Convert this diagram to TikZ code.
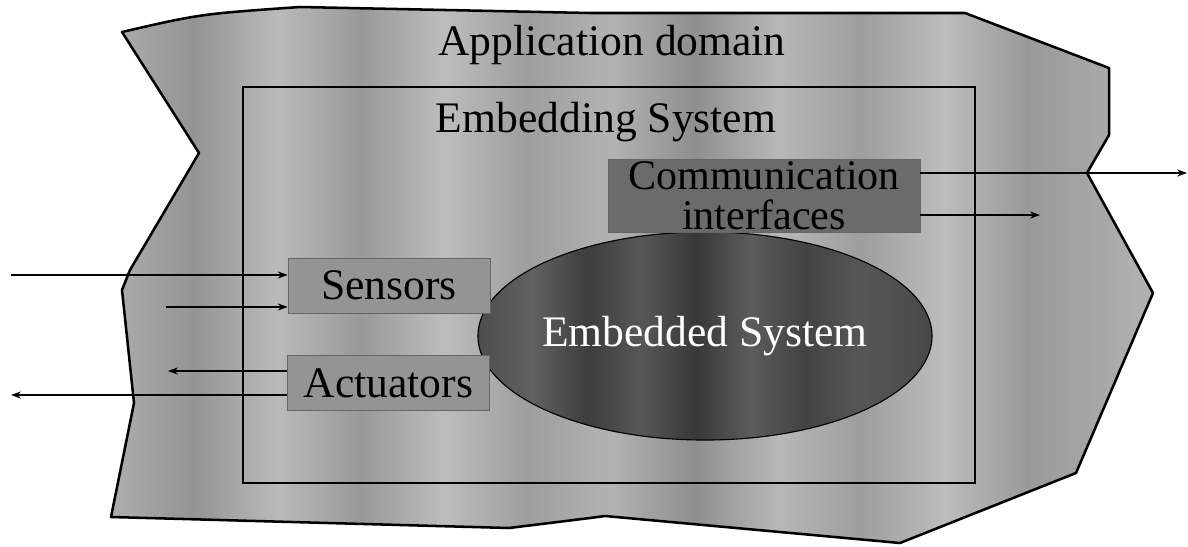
\documentclass[tikz,border=0pt]{standalone}
\usepackage{fontspec}
\setmainfont{Liberation Serif}
\usetikzlibrary{shapes.geometric,arrows.meta}

\pgfdeclarehorizontalshading{marble}{100bp}{color(0bp)=(black!32); color(25bp)=(black!32); color(29bp)=(black!42); color(33bp)=(black!27); color(37bp)=(black!40); color(41bp)=(black!26); color(45bp)=(black!38); color(49bp)=(black!30); color(53bp)=(black!44); color(57bp)=(black!28); color(61bp)=(black!38); color(65bp)=(black!26); color(69bp)=(black!40); color(75bp)=(black!30); color(100bp)=(black!30)}
\pgfdeclarehorizontalshading{darkmarble}{100bp}{color(0bp)=(black!70); color(25bp)=(black!70); color(31bp)=(black!62); color(37bp)=(black!76); color(43bp)=(black!66); color(49bp)=(black!78); color(55bp)=(black!64); color(61bp)=(black!74); color(67bp)=(black!66); color(75bp)=(black!72); color(100bp)=(black!72)}

\begin{document}
\begin{tikzpicture}[x=0.025cm, y=-0.025cm, >={Stealth[length=7pt,width=5pt]},
    font=\fontsize{31}{27}\selectfont,
    part/.style={draw=black!60, line width=0.4pt, fill=black!42, minimum width=5.05cm, minimum height=1.375cm, inner sep=0pt},
    link/.style={->, line width=1.2pt}]
    \useasboundingbox (0,0) rectangle (1188,546);

    % Application domain
    \shadedraw[shading=marble, line width=1.8pt, line join=round]
        (122,32) .. controls (200,14) .. (300,7) -- (590,13) -- (965,13) -- (1109,68) -- (1109,135)
        -- (1087,173) -- (1153,293) -- (1076,473) -- (900,543) -- (605,516) -- (590,518)
        -- (509,528) -- (111,517) -- (134,403) -- (122,290) -- (130,270) -- (199,153) -- cycle;
    \node[anchor=base] (appl) at (612,55) {Application domain};

    % Embedding system
    \draw[line width=1.4pt] (243,87) rectangle (975,483);
    \node[anchor=base] (embsys) at (606,132) {Embedding System};

    % Embedded system
    \node[ellipse, draw, line width=0.8pt, shading=darkmarble, inner sep=0pt, minimum width=11.35cm, minimum height=5.2cm] (emb) at (705,336) {};
    \node[text=white] (embtxt) at (emb.center) {Embedded System};

    % Parts
    \node[part] (sens) at (389,285.5) {Sensors};
    \node[part] (act) at (388.5,383) {Actuators};
    \node[part, fill=black!58, minimum width=7.8cm, minimum height=1.825cm, align=center,
        font=\fontsize{30}{28.5}\selectfont] (comm) at (764,195.5) {Communication\\interfaces};

    % Signals
    \coordinate (in1) at (11,275);
    \coordinate (in2) at (166,307);
    \coordinate (out1) at (168,371);
    \coordinate (out2) at (11,395);
    \coordinate (out3) at (1187,173);
    \coordinate (out4) at (1040,215);

    \draw[link] (in1) -- (in1 -| sens.west);
    \draw[link] (in2) -- (in2 -| sens.west);
    \draw[link] (out1 -| act.west) -- (out1);
    \draw[link] (out2 -| act.west) -- (out2);
    \draw[link] (out3 -| comm.east) -- (out3);
    \draw[link] (out4 -| comm.east) -- (out4);
\end{tikzpicture}
\end{document}
